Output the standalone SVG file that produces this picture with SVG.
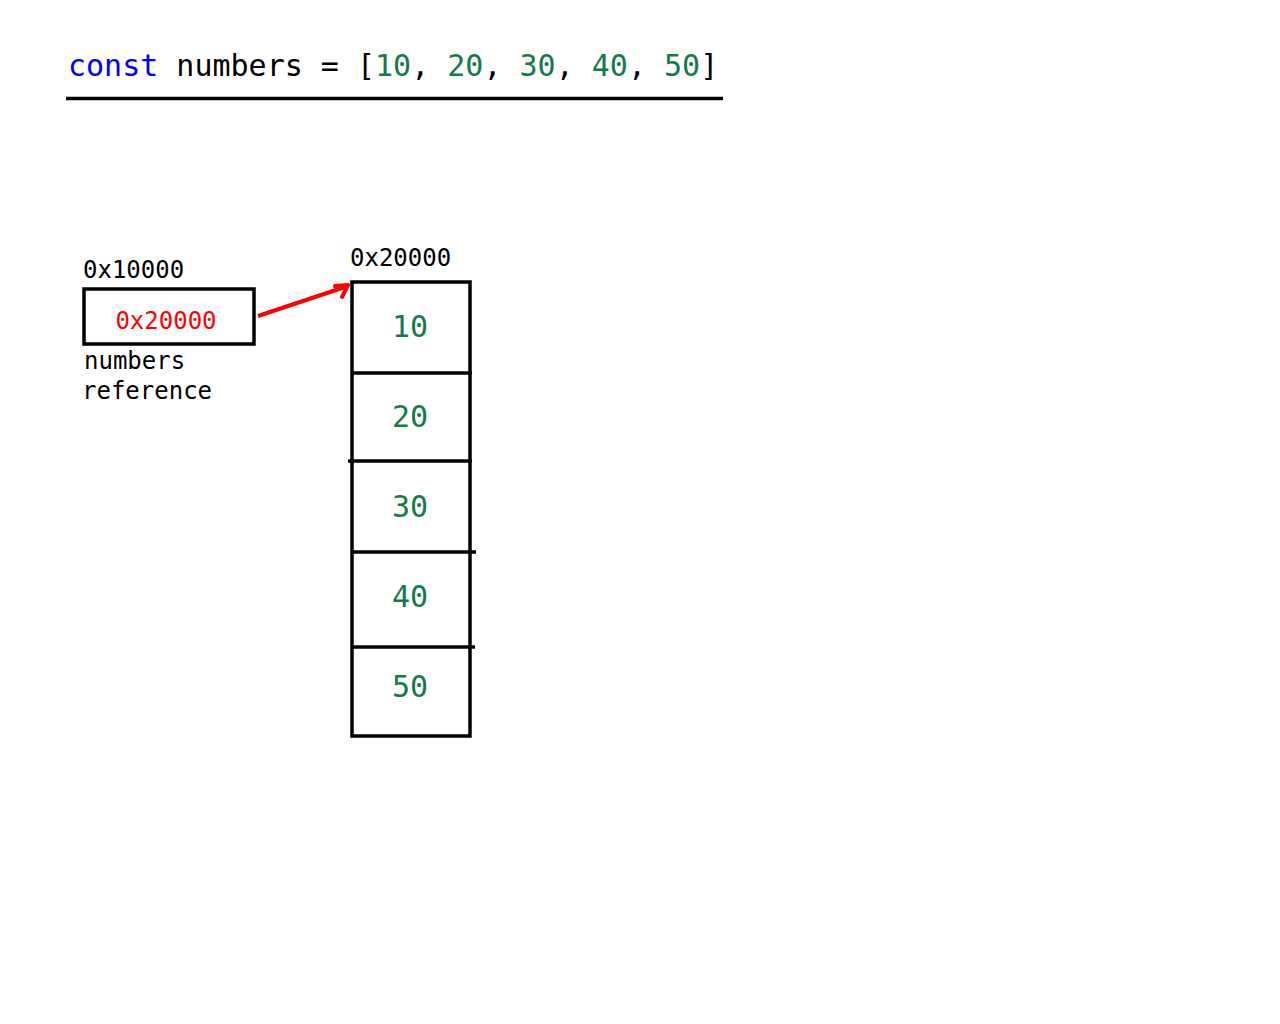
<svg xmlns="http://www.w3.org/2000/svg" width="1280" height="1024" viewBox="0 0 1280 1024">
<style>
text{font-family:"DejaVu Sans Mono","Liberation Mono",monospace;}
.t{font-size:30px;}
.s{font-size:24px;fill:#000;}
.g{fill:#137a4a;}
.box{fill:none;stroke:#000;stroke-width:3.5;}
.ln{stroke:#000;stroke-width:3.5;}
</style>
<rect width="1280" height="1024" fill="#fff"/>
<g id="code">
<text class="t" x="68" y="76"><tspan fill="#0000ff">const</tspan><tspan fill="#000"> numbers = [</tspan><tspan class="g">10</tspan><tspan fill="#000">, </tspan><tspan class="g">20</tspan><tspan fill="#000">, </tspan><tspan class="g">30</tspan><tspan fill="#000">, </tspan><tspan class="g">40</tspan><tspan fill="#000">, </tspan><tspan class="g">50</tspan><tspan fill="#000">]</tspan></text>
<line class="ln" x1="66" y1="98.5" x2="723" y2="98.5"/>
</g>
<g id="ref">
<text class="s" x="83" y="278">0x10000</text>
<rect class="box" x="84" y="289" width="170" height="55"/>
<text class="s" x="166" y="329" text-anchor="middle" style="fill:#ff0000">0x20000</text>
<text class="s" x="84" y="369">numbers</text>
<text class="s" x="82" y="399">reference</text>
</g>
<g id="array">
<text class="s" x="350" y="266">0x20000</text>
<rect class="box" x="352" y="282" width="118" height="454"/>
<line class="ln" x1="352" y1="373" x2="472" y2="373"/>
<line class="ln" x1="348" y1="461" x2="472" y2="461"/>
<line class="ln" x1="352" y1="552" x2="476" y2="552"/>
<line class="ln" x1="352" y1="647" x2="475" y2="647"/>
<g text-anchor="middle">
<text class="t g" x="410" y="337">10</text>
<text class="t g" x="410" y="427">20</text>
<text class="t g" x="410" y="517">30</text>
<text class="t g" x="410" y="607">40</text>
<text class="t g" x="410" y="697">50</text>
</g>
</g>
<g id="connectors">
<line x1="258" y1="316" x2="348" y2="286" stroke="#ff0000" stroke-width="4"/>
<polyline points="335,286 348,285 342,297" fill="none" stroke="#ff0000" stroke-width="4" stroke-linejoin="round" stroke-linecap="round"/>
</g>
</svg>
